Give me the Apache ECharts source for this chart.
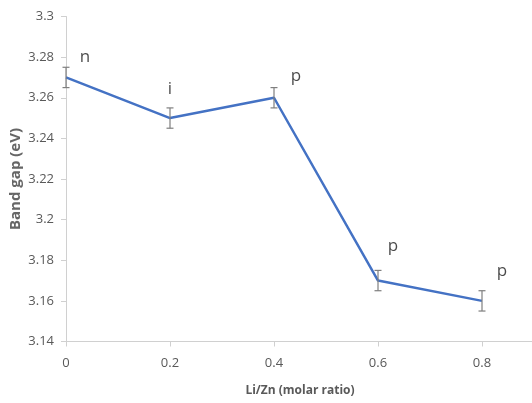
<!DOCTYPE html>
<html><head><meta charset="utf-8">
<script src="https://cdn.jsdelivr.net/npm/echarts@6/dist/echarts.min.js"></script>
<style>html,body{margin:0;padding:0;background:#fff}#c{width:532px;height:403px}</style>
</head><body><div id="c"></div>
<script>
var ratios = [0, 0.2, 0.4, 0.6, 0.8];
var bandGap = [3.27, 3.25, 3.26, 3.17, 3.16];
var errors = [0.005, 0.005, 0.005, 0.005, 0.005];
var types = ['n', 'i', 'p', 'p', 'p'];
var labelOffsets = [[19, -20], [0, -29], [22, -22], [15, -34], [20, -30]];

var chart = echarts.init(document.getElementById('c'));
var lineData = ratios.map(function (x, i) { return [x, bandGap[i]]; });
var labelData = ratios.map(function (x, i) {
  return {
    value: [x, bandGap[i]],
    label: { show: true, formatter: types[i], position: 'inside', offset: labelOffsets[i] }
  };
});
var errData = ratios.map(function (x, i) { return [x, bandGap[i] - errors[i], bandGap[i] + errors[i]]; });

chart.setOption({
  animation: false,
  grid: { left: 66, right: -2, top: 16.5, bottom: 61.5, containLabel: false, outerBoundsMode: 'none' },
  xAxis: {
    type: 'value', min: 0, max: 0.9, interval: 0.2,
    name: 'Li/Zn (molar ratio)', nameLocation: 'middle', nameGap: 43,
    nameTextStyle: { color: '#595959', fontSize: 12, fontWeight: 'bold', fontFamily: 'Open Sans' },
    axisLine: { show: true, lineStyle: { color: '#d0d0d0', width: 1 } },
    axisTick: { show: true, length: 5, lineStyle: { color: '#d0d0d0' } },
    axisLabel: { color: '#595959', fontSize: 13, fontFamily: 'Open Sans', margin: 15, showMaxLabel: false },
    splitLine: { show: false }
  },
  yAxis: {
    type: 'value', min: 3.14, max: 3.3, interval: 0.02,
    name: 'Band gap (eV)', nameLocation: 'middle', nameGap: 43, nameRotate: 90, nameMoveOverlap: false,
    nameTextStyle: { color: '#666666', fontSize: 15, fontWeight: 'bold', fontFamily: 'Open Sans' },
    axisLine: { show: true, lineStyle: { color: '#d0d0d0', width: 1 } },
    axisTick: { show: true, length: 5, lineStyle: { color: '#d0d0d0' } },
    axisLabel: { color: '#595959', fontSize: 13, fontFamily: 'Open Sans', margin: 12,
      formatter: function (v) { return String(parseFloat(v.toFixed(2))); } },
    splitLine: { show: false }
  },
  series: [
    {
      type: 'custom',
      data: errData,
      z: 3,
      renderItem: function (params, api) {
        var x = api.value(0);
        var lo = api.coord([x, api.value(1)]);
        var hi = api.coord([x, api.value(2)]);
        var w = 3.5;
        var st = { stroke: '#7f7f7f', lineWidth: 1.2 };
        return {
          type: 'group',
          children: [
            { type: 'line', shape: { x1: lo[0], y1: lo[1], x2: hi[0], y2: hi[1] }, style: st },
            { type: 'line', shape: { x1: lo[0] - w, y1: lo[1], x2: lo[0] + w, y2: lo[1] }, style: st },
            { type: 'line', shape: { x1: hi[0] - w, y1: hi[1], x2: hi[0] + w, y2: hi[1] }, style: st }
          ]
        };
      }
    },
    {
      type: 'line',
      data: lineData,
      z: 2,
      symbol: 'none',
      lineStyle: { color: '#4472C4', width: 2.5 }
    },
    {
      type: 'scatter',
      data: labelData,
      z: 4,
      symbol: 'circle',
      symbolSize: 2,
      itemStyle: { color: 'rgba(0,0,0,0)' },
      label: { show: true, color: '#1a1a1a', fontSize: 17, fontFamily: 'Open Sans' },
      emphasis: { disabled: true }
    }
  ]
});
</script></body></html>
